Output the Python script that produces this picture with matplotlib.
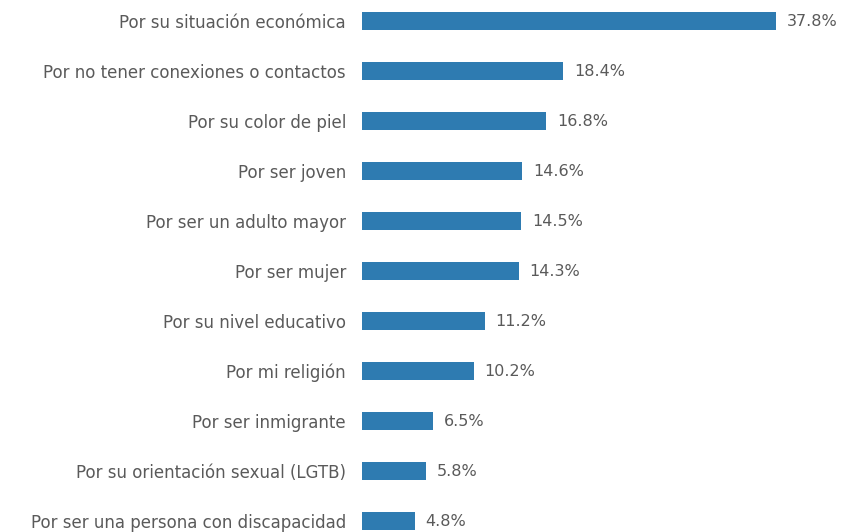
import matplotlib
matplotlib.use('Agg')
import matplotlib.pyplot as plt

categorias = [
    'Por su situación económica',
    'Por no tener conexiones o contactos',
    'Por su color de piel',
    'Por ser joven',
    'Por ser un adulto mayor',
    'Por ser mujer',
    'Por su nivel educativo',
    'Por mi religión',
    'Por ser inmigrante',
    'Por su orientación sexual (LGTB)',
    'Por ser una persona con discapacidad',
]
valores = [37.8, 18.4, 16.8, 14.6, 14.5, 14.3, 11.2, 10.2, 6.5, 5.8, 4.8]

azul = '#2e7bb1'
gris = '#5a5a5a'

plt.rcParams['font.family'] = ['DejaVu Sans']

fig = plt.figure(figsize=(8.41, 5.32), dpi=100)
ax = fig.add_axes([362/841, 0, 479/841, 1])

pos = list(range(len(categorias)))
ax.barh(pos, valores, height=0.36, color=azul)

for p, v in zip(pos, valores):
    ax.annotate(f'{v:.1f}%', (v, p), xytext=(11, -1), textcoords='offset pixels',
                va='center', ha='left', fontsize=11.5, color=gris)

ax.set_yticks(pos)
ax.set_yticklabels(categorias, fontsize=12, color=gris)
ax.tick_params(axis='y', length=0, pad=11.5)
ax.set_xticks([])
ax.set_xlim(0, 479/10.95)
ax.set_ylim(10.22, -0.42)
for s in ax.spines.values():
    s.set_visible(False)

fig.savefig('out.png', dpi=100)
